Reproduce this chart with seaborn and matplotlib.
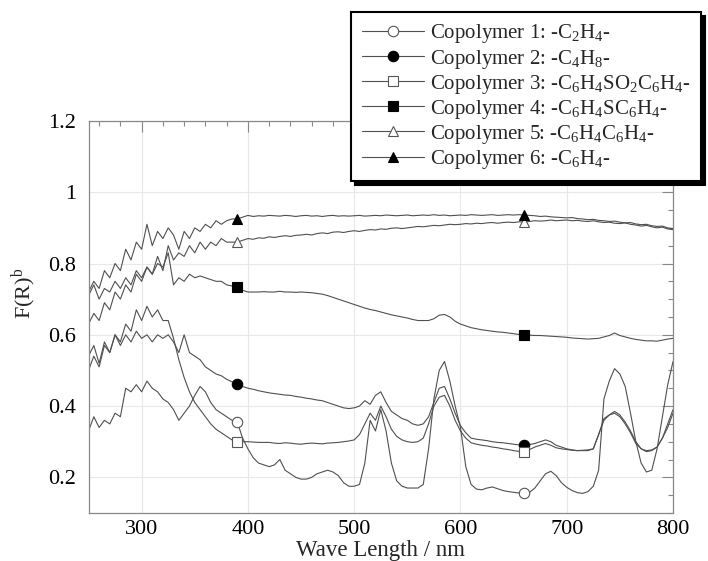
import numpy as np
import pandas as pd
import matplotlib
matplotlib.use("Agg")
import matplotlib.pyplot as plt
from matplotlib.ticker import MultipleLocator
import seaborn as sns

# wavelength grid (nm), 5 nm steps
wavelength = np.arange(250, 801, 5)

c1 = [0.33, 0.37, 0.34, 0.36, 0.35, 0.38, 0.37, 0.45, 0.44, 0.46,
      0.44, 0.47, 0.45, 0.44, 0.42, 0.41, 0.39, 0.36, 0.38, 0.40,
      0.43, 0.455, 0.44, 0.41, 0.39, 0.38, 0.37, 0.36, 0.355, 0.31,
      0.28, 0.255, 0.24, 0.235, 0.23, 0.235, 0.25, 0.22, 0.21, 0.20,
      0.195, 0.195, 0.20, 0.21, 0.215, 0.22, 0.215, 0.205, 0.185, 0.175,
      0.175, 0.18, 0.24, 0.36, 0.33, 0.39, 0.33, 0.24, 0.19, 0.175,
      0.17, 0.17, 0.17, 0.18, 0.28, 0.42, 0.50, 0.525, 0.47, 0.40,
      0.34, 0.23, 0.18, 0.167, 0.165, 0.17, 0.173, 0.168, 0.163, 0.16,
      0.158, 0.156, 0.155, 0.158, 0.17, 0.19, 0.21, 0.217, 0.205, 0.185,
      0.172, 0.163, 0.157, 0.155, 0.16, 0.175, 0.22, 0.42, 0.47, 0.505,
      0.49, 0.455, 0.38, 0.30, 0.24, 0.215, 0.22, 0.28, 0.37, 0.46,
      0.525]
c2 = [0.54, 0.57, 0.52, 0.58, 0.55, 0.60, 0.57, 0.60, 0.58, 0.61,
      0.59, 0.60, 0.58, 0.60, 0.59, 0.60, 0.58, 0.55, 0.60, 0.55,
      0.54, 0.53, 0.51, 0.50, 0.49, 0.485, 0.475, 0.468, 0.462, 0.455,
      0.45, 0.447, 0.443, 0.44, 0.437, 0.435, 0.433, 0.431, 0.43, 0.427,
      0.425, 0.422, 0.42, 0.417, 0.415, 0.41, 0.405, 0.40, 0.395, 0.393,
      0.395, 0.40, 0.415, 0.405, 0.43, 0.44, 0.41, 0.385, 0.375, 0.365,
      0.36, 0.35, 0.346, 0.35, 0.37, 0.41, 0.45, 0.455, 0.42, 0.38,
      0.345, 0.325, 0.31, 0.307, 0.305, 0.303, 0.30, 0.298, 0.297, 0.295,
      0.293, 0.291, 0.29, 0.292, 0.295, 0.30, 0.305, 0.30, 0.29, 0.285,
      0.28, 0.277, 0.275, 0.276, 0.277, 0.28, 0.32, 0.365, 0.375, 0.385,
      0.375, 0.355, 0.33, 0.30, 0.28, 0.275, 0.277, 0.285, 0.31, 0.35,
      0.39]
c3 = [0.50, 0.54, 0.51, 0.57, 0.55, 0.60, 0.58, 0.63, 0.61, 0.67,
      0.64, 0.68, 0.65, 0.67, 0.64, 0.64, 0.59, 0.53, 0.48, 0.44,
      0.41, 0.39, 0.37, 0.35, 0.335, 0.325, 0.315, 0.305, 0.30, 0.30,
      0.30, 0.299, 0.298, 0.298, 0.298, 0.296, 0.295, 0.297, 0.296, 0.294,
      0.293, 0.295, 0.296, 0.295, 0.294, 0.296, 0.297, 0.298, 0.30, 0.302,
      0.305, 0.32, 0.35, 0.38, 0.36, 0.40, 0.37, 0.335, 0.315, 0.305,
      0.30, 0.298, 0.30, 0.31, 0.35, 0.40, 0.425, 0.43, 0.40, 0.36,
      0.33, 0.31, 0.297, 0.293, 0.29, 0.288, 0.285, 0.283, 0.28, 0.278,
      0.275, 0.273, 0.272, 0.278, 0.285, 0.29, 0.295, 0.29, 0.283, 0.28,
      0.278, 0.276, 0.275, 0.275, 0.275, 0.28, 0.32, 0.36, 0.375, 0.38,
      0.37, 0.35, 0.325, 0.295, 0.28, 0.272, 0.275, 0.285, 0.31, 0.34,
      0.38]
c4 = [0.71, 0.74, 0.70, 0.73, 0.72, 0.75, 0.73, 0.76, 0.74, 0.78,
      0.76, 0.79, 0.77, 0.80, 0.79, 0.83, 0.74, 0.76, 0.75, 0.77,
      0.76, 0.765, 0.76, 0.755, 0.75, 0.75, 0.74, 0.737, 0.733, 0.725,
      0.72, 0.72, 0.72, 0.721, 0.72, 0.72, 0.722, 0.72, 0.72, 0.719,
      0.72, 0.719, 0.718, 0.716, 0.714, 0.71, 0.705, 0.70, 0.695, 0.69,
      0.685, 0.68, 0.675, 0.671, 0.668, 0.664, 0.66, 0.656, 0.653, 0.65,
      0.647, 0.643, 0.64, 0.64, 0.64, 0.645, 0.655, 0.657, 0.65, 0.638,
      0.63, 0.625, 0.62, 0.617, 0.614, 0.612, 0.61, 0.608, 0.607, 0.605,
      0.603, 0.601, 0.60, 0.599, 0.598, 0.598, 0.597, 0.596, 0.595, 0.594,
      0.593, 0.591, 0.59, 0.589, 0.588, 0.589, 0.59, 0.594, 0.598, 0.605,
      0.598, 0.594, 0.59, 0.587, 0.585, 0.583, 0.583, 0.582, 0.585, 0.588,
      0.59]
c5 = [0.63, 0.66, 0.64, 0.69, 0.67, 0.72, 0.70, 0.74, 0.72, 0.77,
      0.75, 0.79, 0.77, 0.82, 0.78, 0.85, 0.81, 0.83, 0.82, 0.85,
      0.83, 0.86, 0.84, 0.86, 0.85, 0.87, 0.86, 0.86, 0.86, 0.865,
      0.87, 0.868, 0.872, 0.871, 0.875, 0.873, 0.876, 0.878, 0.876, 0.879,
      0.88, 0.882, 0.88, 0.884, 0.886, 0.884, 0.888, 0.889, 0.887, 0.89,
      0.892, 0.89, 0.893, 0.895, 0.894, 0.897, 0.896, 0.899, 0.90, 0.898,
      0.90, 0.902, 0.904, 0.903, 0.905, 0.907, 0.906, 0.908, 0.91, 0.909,
      0.91, 0.912, 0.911, 0.913, 0.912, 0.914, 0.915, 0.913, 0.915, 0.916,
      0.915, 0.917, 0.916, 0.918, 0.92, 0.919, 0.92, 0.922, 0.92, 0.921,
      0.922, 0.92, 0.921, 0.919, 0.918, 0.92, 0.917, 0.915, 0.916, 0.913,
      0.912, 0.914, 0.91, 0.908, 0.905, 0.907, 0.903, 0.90, 0.902, 0.897,
      0.895]
c6 = [0.72, 0.75, 0.73, 0.78, 0.76, 0.80, 0.78, 0.84, 0.81, 0.86,
      0.84, 0.91, 0.85, 0.89, 0.87, 0.90, 0.88, 0.84, 0.89, 0.87,
      0.90, 0.89, 0.91, 0.90, 0.92, 0.91, 0.92, 0.925, 0.925, 0.93,
      0.935, 0.932, 0.934, 0.933, 0.935, 0.934, 0.933, 0.935, 0.934, 0.932,
      0.934, 0.935, 0.933, 0.934, 0.932, 0.934, 0.935, 0.933, 0.934, 0.933,
      0.934, 0.935, 0.933, 0.934, 0.935, 0.934, 0.936, 0.935, 0.934, 0.935,
      0.936, 0.934, 0.935, 0.936, 0.935, 0.937, 0.935, 0.936, 0.934, 0.935,
      0.936, 0.935, 0.937, 0.936, 0.935, 0.936, 0.937, 0.935, 0.936, 0.937,
      0.936, 0.937, 0.936, 0.935, 0.934, 0.932, 0.933, 0.931, 0.93, 0.929,
      0.928, 0.929, 0.926, 0.925, 0.923, 0.924, 0.921, 0.92, 0.918, 0.919,
      0.916, 0.914, 0.915, 0.911, 0.909, 0.91, 0.906, 0.904, 0.905, 0.90,
      0.898]

labels = ["Copolymer 1: -C$_2$H$_4$-",
          "Copolymer 2: -C$_4$H$_8$-",
          "Copolymer 3: -C$_6$H$_4$SO$_2$C$_6$H$_4$-",
          "Copolymer 4: -C$_6$H$_4$SC$_6$H$_4$-",
          "Copolymer 5: -C$_6$H$_4$C$_6$H$_4$-",
          "Copolymer 6: -C$_6$H$_4$-"]
series = [c1, c2, c3, c4, c5, c6]
marker_wl = [390, 660]

sns.set_style("white")
plt.rcParams["font.family"] = ["Liberation Serif", "DejaVu Serif"]
plt.rcParams["mathtext.default"] = "regular"

fig = plt.figure(figsize=(7.08, 5.61), dpi=100)
ax = fig.add_axes([0.125, 0.0856, 0.8256, 0.6988])

styles = [("o", "white", "#555555"), ("o", "black", "black"),
          ("s", "white", "#555555"), ("s", "black", "black"),
          ("^", "white", "#555555"), ("^", "black", "black")]
marks = [int(np.where(wavelength == w)[0][0]) for w in marker_wl]

for vals, lab, (mk, fc, ec) in zip(series, labels, styles):
    sns.lineplot(x=wavelength, y=vals, ax=ax, color="#505050", lw=0.8,
                 marker=mk, markersize=7.5, markerfacecolor=fc,
                 markeredgecolor=ec, markeredgewidth=0.8,
                 markevery=marks, label=lab, legend=False)

ax.set_xlim(250, 800)
ax.set_ylim(0.1, 1.2)
ax.xaxis.set_major_locator(MultipleLocator(100))
ax.xaxis.set_minor_locator(MultipleLocator(20))
ax.yaxis.set_minor_locator(MultipleLocator(0.05))
ax.set_yticks([0.2, 0.4, 0.6, 0.8, 1.0, 1.2])
ax.set_yticklabels(["0.2", "0.4", "0.6", "0.8", "1", "1.2"])
ax.grid(True, which="major", color="#e8e8e8", lw=0.8)
ax.tick_params(which="both", direction="in", top=True, right=True,
               color="#888888", labelsize=16, labelcolor="black")
ax.tick_params(which="major", length=8, width=0.8)
ax.tick_params(which="minor", length=3.8, width=0.8)
ax.tick_params(axis="x", pad=5)
ax.tick_params(axis="y", pad=9)
for sp in ax.spines.values():
    sp.set_color("#888888")
    sp.set_linewidth(0.9)

ax.set_xlabel("Wave Length / nm", fontsize=16.5, labelpad=1)
ax.set_ylabel("F(R)$^b$", fontsize=16)
ax.yaxis.set_label_coords(-0.085, 0.56)

handles, labs = ax.get_legend_handles_labels()
leg = fig.legend(handles, labs, loc="upper right",
                 bbox_to_anchor=(701 / 708, 1 - 12 / 561),
                 fontsize=15, frameon=True, fancybox=False,
                 shadow={"ox": 3, "oy": -3, "facecolor": "black",
                         "edgecolor": "black", "alpha": 1},
                 handlelength=3.0, handletextpad=0.3, labelspacing=0.1,
                 borderpad=0.5, borderaxespad=0)
leg.get_frame().set_edgecolor("black")
leg.get_frame().set_linewidth(1.5)
for h in leg.legend_handles:
    h.set_color("#505050")

fig.savefig("out.png", dpi=100)
